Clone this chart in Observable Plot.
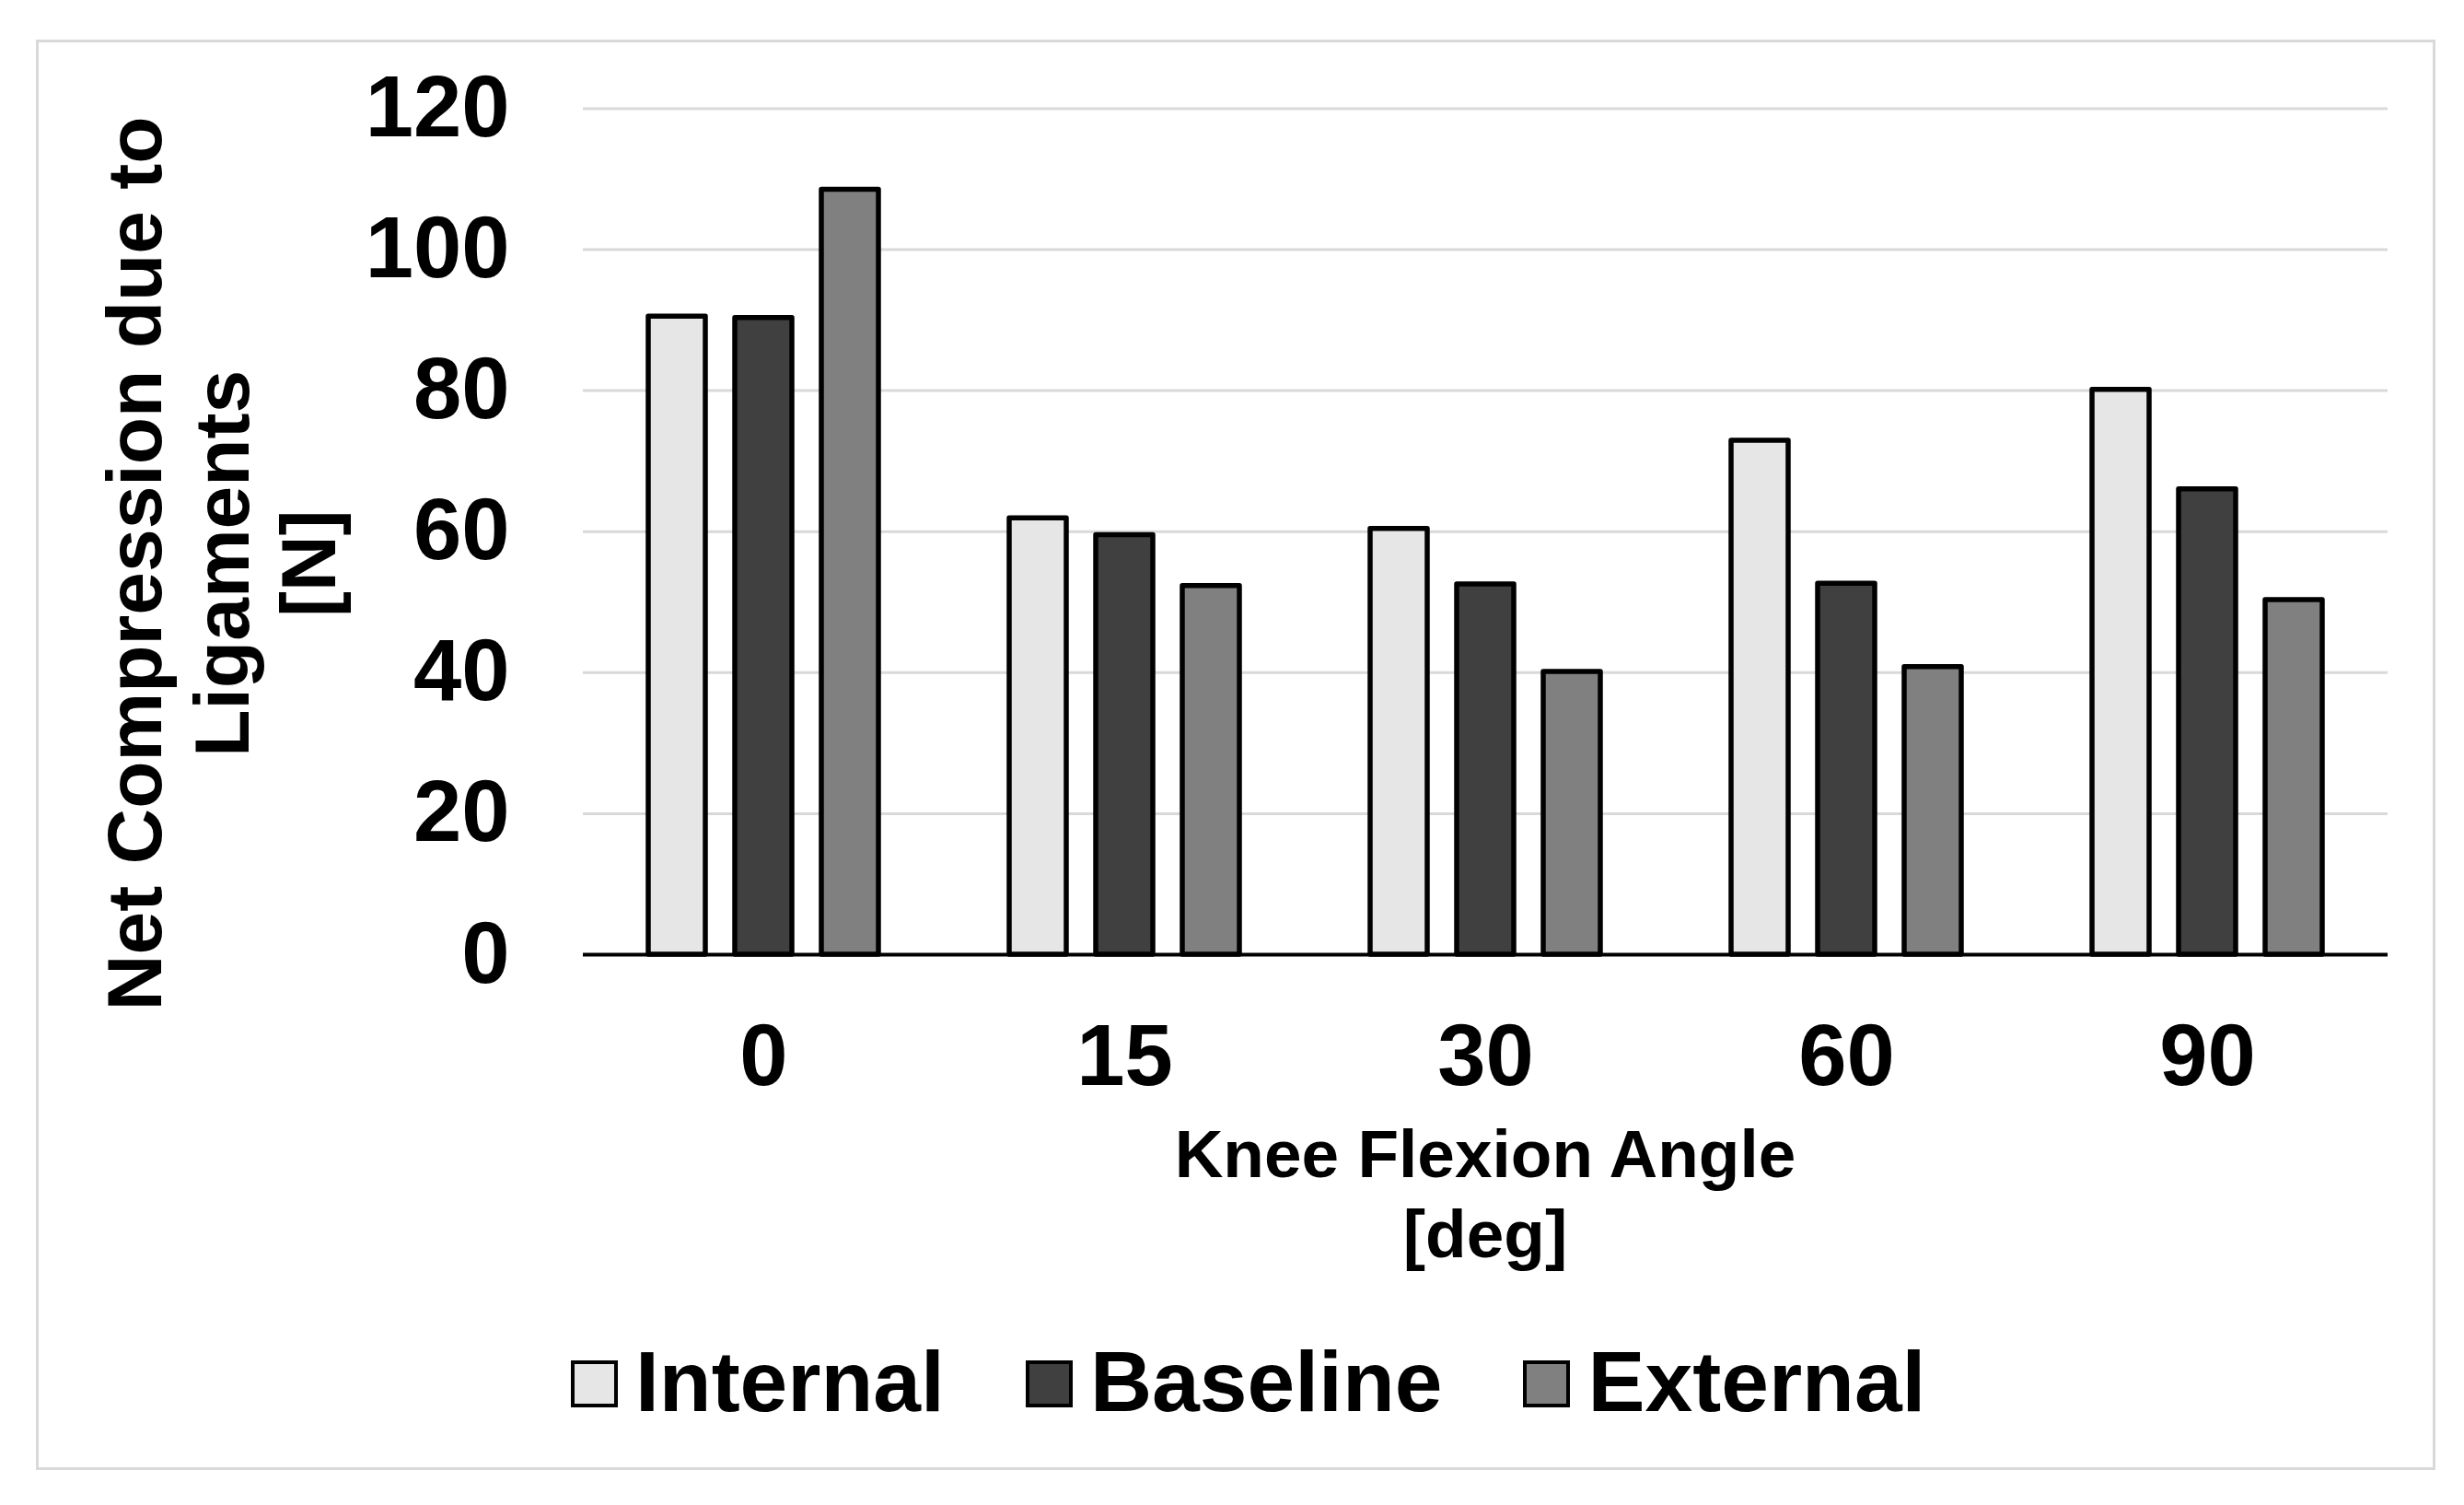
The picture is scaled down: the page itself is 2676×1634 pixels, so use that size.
<!DOCTYPE html>
<html>
<head>
<meta charset="utf-8">
<script src="https://cdn.jsdelivr.net/npm/d3@7"></script>
<script src="https://cdn.jsdelivr.net/npm/@observablehq/plot@0.6"></script>
<style>
  html, body { margin: 0; padding: 0; background: #fff; }
  #page { position: relative; width: 2676px; height: 1634px; overflow: hidden; background: #fff;
          font-family: "Liberation Sans", Arial, sans-serif; font-weight: bold; color: #000; }
  #frame { position: absolute; left: 39px; top: 43px; width: 2606px; height: 1553px;
           border: 3px solid #d9d9d9; box-sizing: border-box; }
  #chart { position: absolute; left: 0; top: 0; }
  #ytitle { position: absolute; left: -309px; top: 470.25px; width: 1100px; height: 283.5px;
            font-size: 84px; line-height: 94.5px; text-align: center; transform: rotate(-90deg);
            transform-origin: 50% 50%; white-space: nowrap; }
  #xtitle { position: absolute; left: 1613px; top: 1208.5px; transform: translateX(-50%);
            font-size: 73px; line-height: 87.5px; text-align: center; white-space: nowrap; }
  #legend { position: absolute; left: 620px; top: 1454.3px; height: 93px; display: flex;
            align-items: center; gap: 88px; font-size: 93px; line-height: 93px; white-space: nowrap; }
  .item { display: flex; align-items: center; }
  .sw { width: 51px; height: 51px; border: 4px solid #000; box-sizing: border-box; margin-right: 19px; margin-top: 3px; }
</style>
</head>
<body>
<div id="page">
  <div id="frame"></div>
  <div id="chart"></div>
  <div id="ytitle"></div>
  <div id="xtitle"></div>
  <div id="legend"></div>
</div>
<script>
// ---- data ----
const angles = ["0", "15", "30", "60", "90"];
const seriesNames = ["Internal", "Baseline", "External"];
const internalValues = [90.5, 61.9, 60.4, 72.9, 80.1];
const baselineValues = [90.3, 59.5, 52.5, 52.6, 66.0];
const externalValues = [108.5, 52.3, 40.1, 40.8, 50.3];
const yTicks = [0, 20, 40, 60, 80, 100, 120];
const seriesColors = ["#e6e6e6", "#404040", "#808080"];
const yTitleLines = ["Net Compression due to", "Ligaments", "[N]"];
const xTitleLines = ["Knee Flexion Angle", "[deg]"];

const valuesBySeries = [internalValues, baselineValues, externalValues];
const data = angles.flatMap((a, i) =>
  seriesNames.map((s, j) => ({angle: a, series: s, value: valuesBySeries[j][i]}))
);

const chart = Plot.plot({
  width: 2676,
  height: 1634,
  marginTop: 117.4,
  marginBottom: 598,
  marginLeft: 631,
  marginRight: 82,
  style: {
    fontFamily: "'Liberation Sans', Arial, sans-serif",
    fontWeight: "bold",
    fontSize: "94px",
    color: "#000",
    background: "transparent"
  },
  fx: {domain: angles, padding: 0, axis: "bottom", label: null, tickSize: 0, tickPadding: 75},
  x: {domain: seriesNames, axis: null, paddingInner: 0.337, paddingOuter: 0.735},
  y: {domain: [0, 120], ticks: yTicks, tickSize: 0, tickPadding: 80, label: null},
  color: {domain: seriesNames, range: seriesColors},
  marks: [
    Plot.ruleY(yTicks.filter(d => d > 0), {stroke: "#d9d9d9", strokeWidth: 3}),
    Plot.barY(data, {
      fx: "angle", x: "series", y: "value", fill: "series",
      stroke: "#000", strokeWidth: 5.5, strokeLinejoin: "round", inset: 0
    }),
    Plot.ruleY([0], {stroke: "#000", strokeWidth: 4})
  ]
});
document.getElementById("chart").appendChild(chart);

// axis titles
const yt = document.getElementById("ytitle");
yTitleLines.forEach(t => { const d = document.createElement("div"); d.textContent = t; yt.appendChild(d); });
const xt = document.getElementById("xtitle");
xTitleLines.forEach(t => { const d = document.createElement("div"); d.textContent = t; xt.appendChild(d); });

// legend
const lg = document.getElementById("legend");
seriesNames.forEach((s, i) => {
  const item = document.createElement("div");
  item.className = "item";
  const sw = document.createElement("div");
  sw.className = "sw";
  sw.style.background = seriesColors[i];
  const label = document.createElement("span");
  label.textContent = s;
  item.appendChild(sw);
  item.appendChild(label);
  lg.appendChild(item);
});
</script>
</body>
</html>
